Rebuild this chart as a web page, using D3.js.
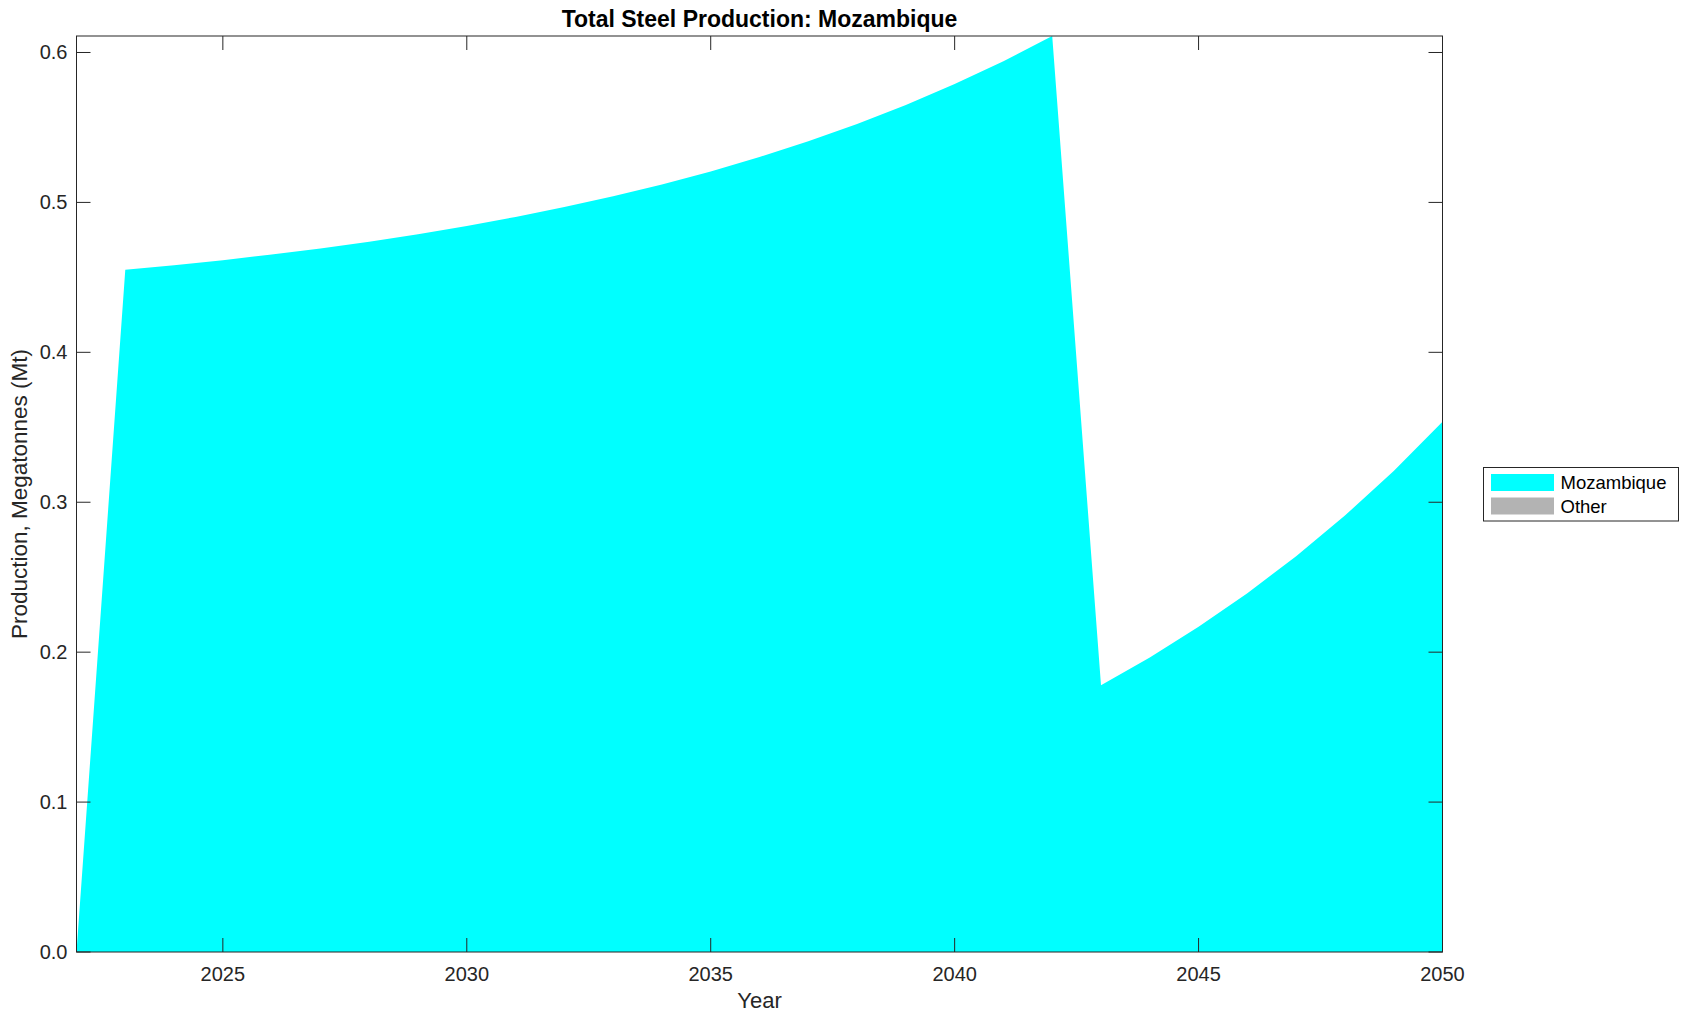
<!DOCTYPE html>
<html>
<head>
<meta charset="utf-8">
<script src="https://cdn.jsdelivr.net/npm/d3@7"></script>
<style>
  body { margin: 0; background: #ffffff; }
  svg { display: block; font-family: 'Liberation Sans', Arial, Helvetica, sans-serif; }
</style>
</head>
<body>
<div id="chart"></div>
<script>
const years = [2022, 2023, 2024, 2025, 2026, 2027, 2028, 2029, 2030, 2031,
  2032, 2033, 2034, 2035, 2036, 2037, 2038, 2039, 2040, 2041,
  2042, 2043, 2044, 2045, 2046, 2047, 2048, 2049, 2050];
const mozambique = [0, 0.455, 0.4581, 0.4615, 0.4652, 0.4693, 0.4738, 0.4788, 0.4843, 0.4903,
  0.4969, 0.5041, 0.512, 0.5207, 0.5303, 0.5408, 0.5523, 0.565, 0.5789, 0.5942,
  0.611, 0.178, 0.1965, 0.2169, 0.2393, 0.264, 0.2911, 0.3209, 0.3537];
const other = [0, 0, 0, 0, 0, 0, 0, 0, 0, 0,
  0, 0, 0, 0, 0, 0, 0, 0, 0, 0,
  0, 0, 0, 0, 0, 0, 0, 0, 0];
const seriesNames = ['Mozambique', 'Other'];
const seriesColors = ['#00ffff', '#b3b3b3'];
const xTicks = [2025, 2030, 2035, 2040, 2045, 2050];
const yTicks = [0, 0.1, 0.2, 0.3, 0.4, 0.5, 0.6];

const width = 1689;
const height = 1021;
const margin = { top: 36, right: 246.5, bottom: 69, left: 76.5 };
const axisColor = '#262626';
const tickLen = 14;

const rows = years.map((y, i) => ({ year: y, Mozambique: mozambique[i], Other: other[i] }));
const stacked = d3.stack().keys(seriesNames)(rows);

const x = d3.scaleLinear()
  .domain([years[0], years[years.length - 1]])
  .range([margin.left, width - margin.right]);

const y = d3.scaleLinear()
  .domain([0, d3.max(stacked[stacked.length - 1], (d) => d[1])])
  .range([height - margin.bottom, margin.top]);

const svg = d3.select('#chart')
  .append('svg')
  .attr('width', width)
  .attr('height', height);

const area = d3.area()
  .x((d) => x(d.data.year))
  .y0((d) => y(d[0]))
  .y1((d) => y(d[1]));

svg.append('g')
  .selectAll('path')
  .data(stacked)
  .join('path')
  .attr('fill', (d, i) => seriesColors[i])
  .attr('d', area);

const x0 = x.range()[0];
const x1 = x.range()[1];
const y0 = y.range()[0];
const y1 = y.range()[1];

// ticks, inward on all four sides
const ticks = svg.append('g')
  .attr('stroke', axisColor)
  .attr('stroke-width', 1);

ticks.selectAll('.xb')
  .data(xTicks)
  .join('line')
  .attr('x1', (d) => x(d)).attr('x2', (d) => x(d))
  .attr('y1', y0).attr('y2', y0 - tickLen);

ticks.selectAll('.xt')
  .data(xTicks)
  .join('line')
  .attr('x1', (d) => x(d)).attr('x2', (d) => x(d))
  .attr('y1', y1).attr('y2', y1 + tickLen);

ticks.selectAll('.yl')
  .data(yTicks)
  .join('line')
  .attr('x1', x0).attr('x2', x0 + tickLen)
  .attr('y1', (d) => y(d)).attr('y2', (d) => y(d));

ticks.selectAll('.yr')
  .data(yTicks)
  .join('line')
  .attr('x1', x1).attr('x2', x1 - tickLen)
  .attr('y1', (d) => y(d)).attr('y2', (d) => y(d));

// box
svg.append('rect')
  .attr('x', x0)
  .attr('y', y1)
  .attr('width', x1 - x0)
  .attr('height', y0 - y1)
  .attr('fill', 'none')
  .attr('stroke', axisColor)
  .attr('stroke-width', 1);

// tick labels
svg.append('g')
  .attr('font-size', 20)
  .attr('fill', axisColor)
  .attr('text-anchor', 'middle')
  .selectAll('text')
  .data(xTicks)
  .join('text')
  .attr('x', (d) => x(d))
  .attr('y', y0 + 29)
  .text((d) => d);

svg.append('g')
  .attr('font-size', 20)
  .attr('fill', axisColor)
  .attr('text-anchor', 'end')
  .selectAll('text')
  .data(yTicks)
  .join('text')
  .attr('x', x0 - 9)
  .attr('y', (d) => y(d) + 7)
  .text((d) => d3.format('.1f')(d));

// title and axis labels
svg.append('text')
  .attr('x', (x0 + x1) / 2)
  .attr('y', 27)
  .attr('text-anchor', 'middle')
  .attr('font-size', 23)
  .attr('font-weight', 'bold')
  .attr('fill', '#000000')
  .text('Total Steel Production: Mozambique');

svg.append('text')
  .attr('x', (x0 + x1) / 2)
  .attr('y', 1008)
  .attr('text-anchor', 'middle')
  .attr('font-size', 22)
  .attr('fill', axisColor)
  .text('Year');

svg.append('text')
  .attr('transform', `translate(27, ${(y0 + y1) / 2}) rotate(-90)`)
  .attr('text-anchor', 'middle')
  .attr('font-size', 22.5)
  .attr('fill', axisColor)
  .text('Production, Megatonnes (Mt)');

// legend
const legend = svg.append('g').attr('transform', 'translate(1483.5, 467.5)');

legend.append('rect')
  .attr('width', 195)
  .attr('height', 53.5)
  .attr('fill', '#ffffff')
  .attr('stroke', axisColor)
  .attr('stroke-width', 1);

const items = legend.selectAll('g')
  .data(seriesNames)
  .join('g')
  .attr('transform', (d, i) => `translate(0, ${i * 23.5})`);

items.append('rect')
  .attr('x', 7.5)
  .attr('y', 6.5)
  .attr('width', 63)
  .attr('height', 17)
  .attr('fill', (d, i) => seriesColors[i]);

items.append('text')
  .attr('x', 77)
  .attr('y', 21.5)
  .attr('font-size', 18.5)
  .attr('fill', '#000000')
  .text((d) => d);
</script>
</body>
</html>
